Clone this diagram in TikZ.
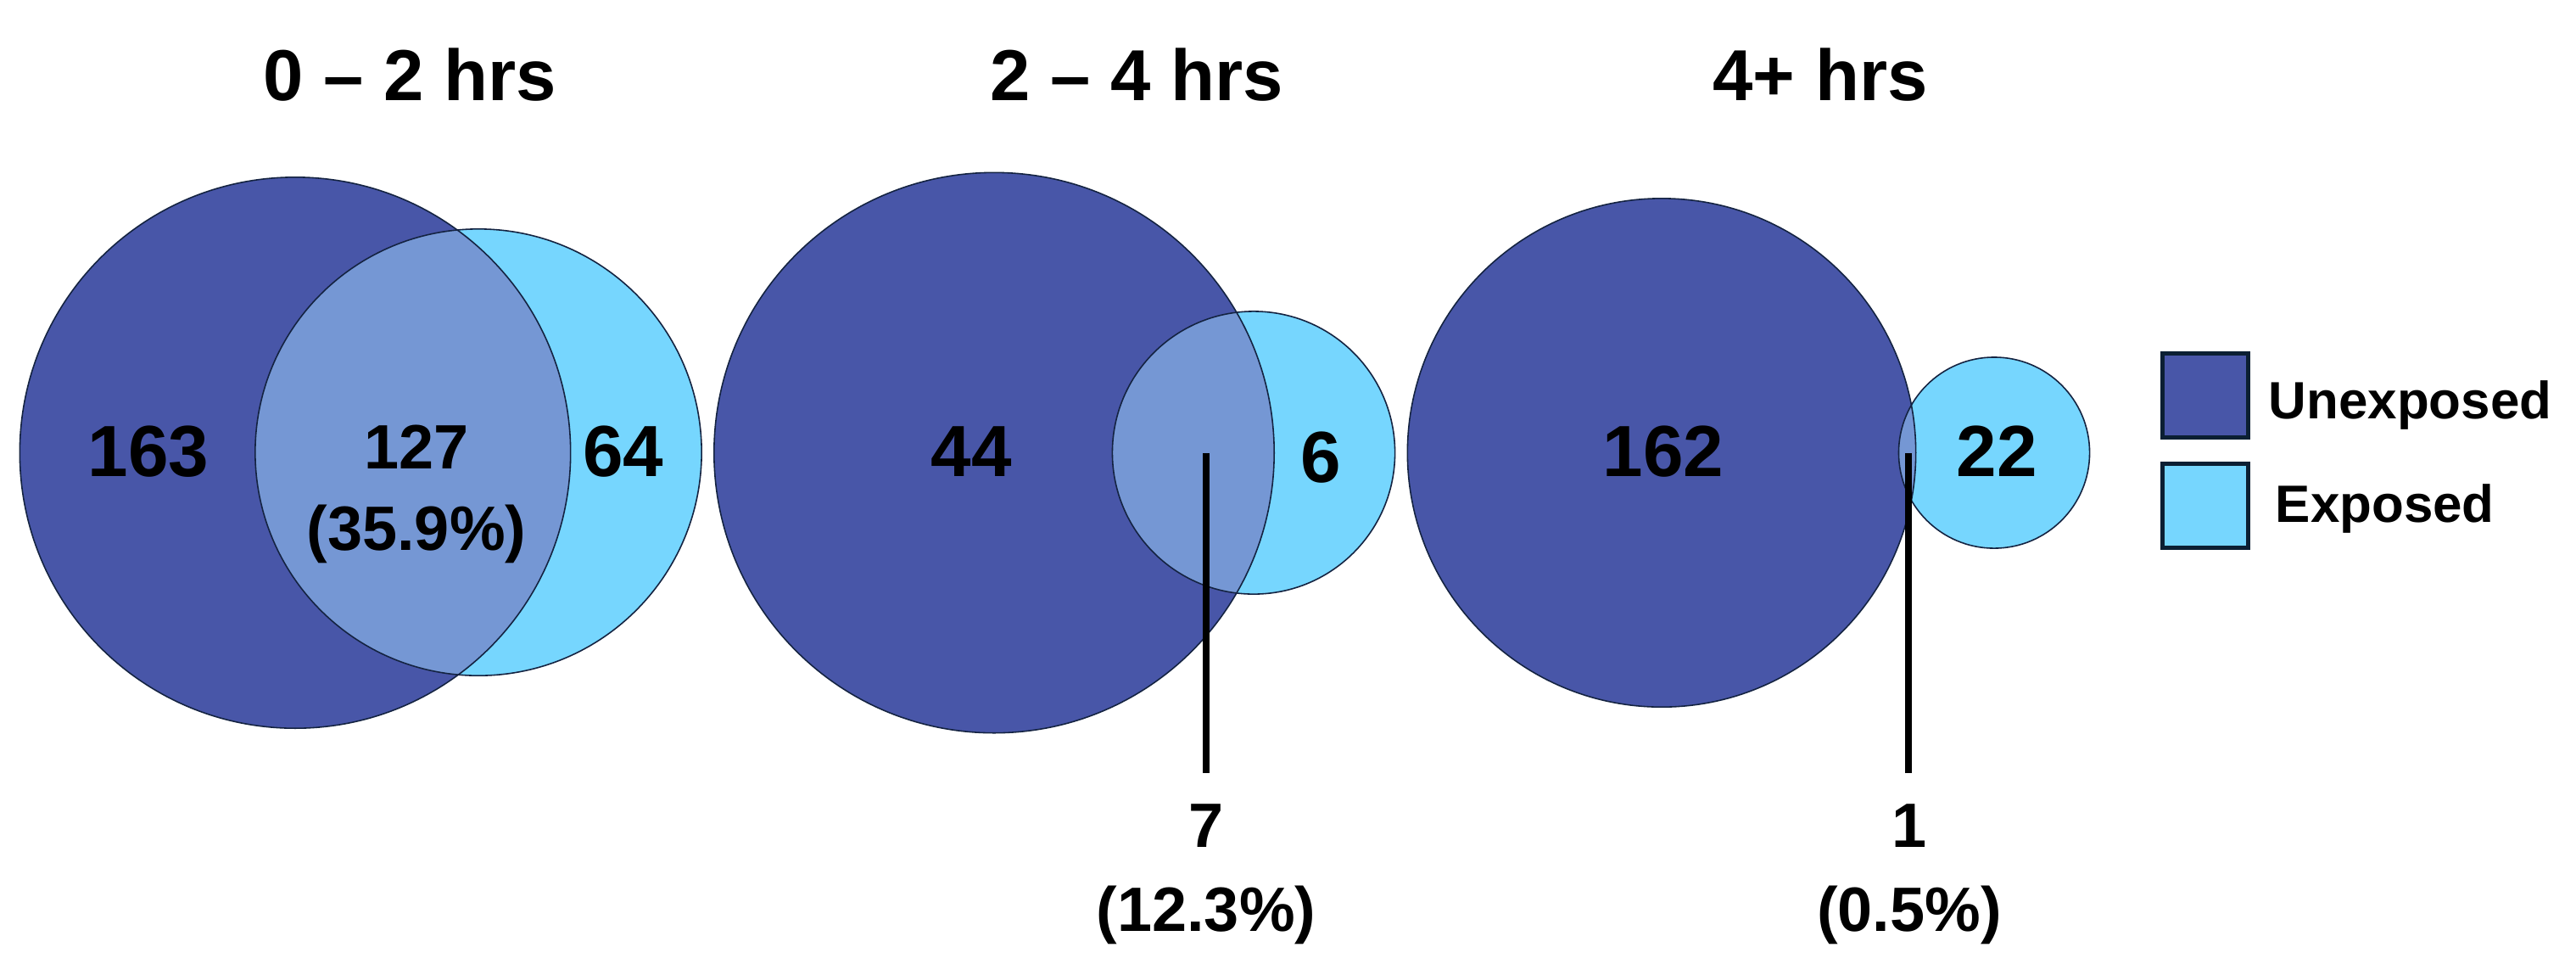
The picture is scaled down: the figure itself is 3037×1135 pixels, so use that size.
\documentclass[tikz,border=0pt]{standalone}
\usepackage{fontspec}
\setmainfont{Liberation Sans}
\definecolor{unexp}{RGB}{72,86,168}
\definecolor{expo}{RGB}{118,214,254}
\definecolor{ovl}{RGB}{117,151,212}
\definecolor{edge}{RGB}{20,35,65}
\definecolor{legedge}{RGB}{11,31,51}
\tikzset{
  big/.style={font=\fontsize{24.3}{28}\selectfont\bfseries, anchor=base, inner sep=0pt},
  small/.style={font=\fontsize{21}{25}\selectfont\bfseries, anchor=base, inner sep=0pt},
  ttl/.style={font=\fontsize{24.2}{29}\selectfont\bfseries, anchor=base, inner sep=0pt},
  legtext/.style={font=\fontsize{17.6}{21}\selectfont\bfseries, anchor=base west, inner sep=0pt},
  outl/.style={draw=edge, line width=0.45pt},
  leader/.style={line width=2.2pt, black},
  legbox/.style={draw=legedge, line width=1.4pt, minimum width=1.01cm, minimum height=0.995cm, inner sep=0pt}
}
\begin{document}
\begin{tikzpicture}[x=0.01cm,y=-0.01cm]
\useasboundingbox[fill=white] (0,0) rectangle (3037,1135);

% ---------- Venn 1 ----------
\coordinate (u1) at (348,533.5);
\coordinate (e1) at (564,533);
\fill[unexp] (u1) circle[radius=3.245cm];
\fill[expo] (e1) circle[radius=2.63cm];
\begin{scope}
  \clip (u1) circle[radius=3.245cm];
  \fill[ovl] (e1) circle[radius=2.63cm];
\end{scope}
\draw[outl] (u1) circle[radius=3.245cm];
\draw[outl] (e1) circle[radius=2.63cm];

% ---------- Venn 2 ----------
\coordinate (u2) at (1172,533.5);
\coordinate (e2) at (1478,533.5);
\fill[unexp] (u2) circle[radius=3.30cm];
\fill[expo] (e2) circle[radius=1.665cm];
\begin{scope}
  \clip (u2) circle[radius=3.30cm];
  \fill[ovl] (e2) circle[radius=1.665cm];
\end{scope}
\draw[outl] (u2) circle[radius=3.30cm];
\draw[outl] (e2) circle[radius=1.665cm];

% ---------- Venn 3 ----------
\coordinate (u3) at (1959,533.5);
\coordinate (e3) at (2351,533.5);
\fill[unexp] (u3) circle[radius=2.995cm];
\fill[expo] (e3) circle[radius=1.125cm];
\begin{scope}
  \clip (u3) circle[radius=2.995cm];
  \fill[ovl] (e3) circle[radius=1.125cm];
\end{scope}
\draw[outl] (u3) circle[radius=2.995cm];
\draw[outl] (e3) circle[radius=1.125cm];

% ---------- titles ----------
\node[ttl] (t1) at (483,118) {0 – 2 hrs};
\node[ttl] (t2) at (1340,118) {2 – 4 hrs};
\node[ttl] (t3) at (2146,118) {4+ hrs};

% ---------- counts ----------
\node[big] (n163) at (175,561) {163};
\node[small] (n127) at (491,552) {127};
\node[small] (p359) at (491,648) {(35.9\%)};
\node[big] (n64) at (735,561) {64};

\node[big] (n44) at (1145,561) {44};
\node[big] (n6) at (1557,568) {6};

\node[big] (n162) at (1961,561) {162};
\node[big] (n22) at (2354,561) {22};

% ---------- leaders ----------
\coordinate (l2top) at (1422,534);
\coordinate (l2bot) at (1422,911);
\coordinate (l3top) at (2250,534);
\coordinate (l3bot) at (2250,911);
\draw[leader] (l2top) -- (l2bot);
\draw[leader] (l3top) -- (l3bot);
\node[small] (n7) at (1422,998) {7};
\node[small] (p123) at (1422,1097) {(12.3\%)};
\node[small] (n1) at (2251,998) {1};
\node[small] (p05) at (2251,1097) {(0.5\%)};

% ---------- legend ----------
\node[legbox, fill=unexp] (lg1) at (2600,466) {};
\node[legbox, fill=expo] (lg2) at (2600,596) {};
\node[legtext] (lt1) at (2674,493) {Unexposed};
\node[legtext] (lt2) at (2682,615) {Exposed};
\end{tikzpicture}
\end{document}
